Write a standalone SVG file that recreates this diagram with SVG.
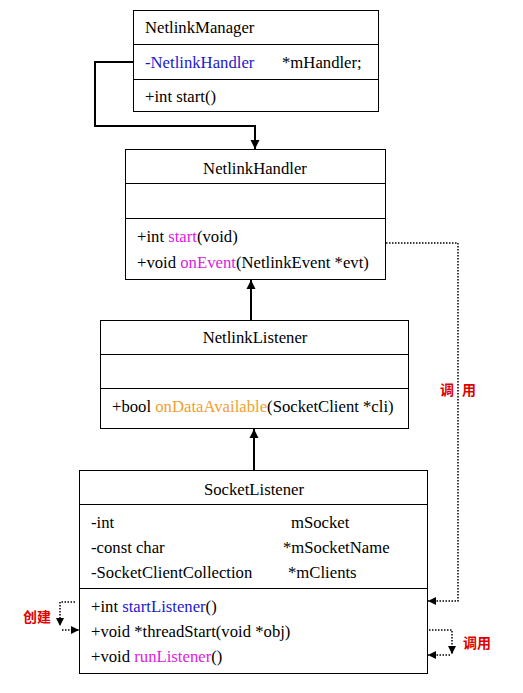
<svg xmlns="http://www.w3.org/2000/svg" width="523" height="693" viewBox="0 0 523 693">
<style>
.box{fill:#fff;stroke:#000;stroke-width:1}
.t{font-family:"Liberation Serif","Times New Roman",serif;font-size:16.7px;fill:#000}
.c{text-anchor:middle}
.blue{fill:#1a1acc}
.mag{fill:#e020e0}
.org{fill:#f0a030}
.cn{font-family:"Noto Sans CJK SC","Noto Sans",sans-serif;font-size:14px;font-weight:bold;fill:#e00000}
.solid{fill:none;stroke:#000;stroke-width:2}
.dot{fill:none;stroke:#000;stroke-width:1.5;stroke-dasharray:1.5 1.5}
</style>
<defs>
<marker id="ah" viewBox="0 0 10 10" refX="10" refY="5" markerUnits="userSpaceOnUse" markerWidth="9" markerHeight="10" orient="auto">
<path d="M0,0 L10,5 L0,10 Z" fill="#000"/>
</marker>
<marker id="ahs" viewBox="0 0 10 10" refX="10" refY="5" markerUnits="userSpaceOnUse" markerWidth="8" markerHeight="8" orient="auto">
<path d="M0,0 L10,5 L0,10 Z" fill="#000"/>
</marker>
</defs>

<g id="NetlinkManager">
<rect class="box" x="133.5" y="10.5" width="245" height="101"/>
<line x1="133.5" y1="44.5" x2="378.5" y2="44.5" stroke="#000"/>
<line x1="133.5" y1="79.5" x2="378.5" y2="79.5" stroke="#000"/>
<text class="t" x="145" y="33">NetlinkManager</text>
<text class="t blue" x="145" y="68">-NetlinkHandler</text>
<text class="t" x="282" y="68">*mHandler;</text>
<text class="t" x="145" y="102">+int start()</text>
</g>

<g id="NetlinkHandler">
<rect class="box" x="125.5" y="149.5" width="260" height="130"/>
<line x1="125.5" y1="183.5" x2="385.5" y2="183.5" stroke="#000"/>
<line x1="125.5" y1="218.5" x2="385.5" y2="218.5" stroke="#000"/>
<text class="t c" x="255" y="174">NetlinkHandler</text>
<text class="t" x="137" y="242">+int <tspan class="mag">start</tspan>(void)</text>
<text class="t" x="137" y="268">+void <tspan class="mag">onEvent</tspan>(NetlinkEvent *evt)</text>
</g>

<g id="NetlinkListener">
<rect class="box" x="100.5" y="320.5" width="308" height="108"/>
<line x1="100.5" y1="354.5" x2="408.5" y2="354.5" stroke="#000"/>
<line x1="100.5" y1="388.5" x2="408.5" y2="388.5" stroke="#000"/>
<text class="t c" x="255" y="343">NetlinkListener</text>
<text class="t" x="112" y="412">+bool <tspan class="org">onDataAvailable</tspan>(SocketClient *cli)</text>
</g>

<g id="SocketListener">
<rect class="box" x="79.5" y="470.5" width="348" height="203"/>
<line x1="79.5" y1="504.5" x2="427.5" y2="504.5" stroke="#000"/>
<line x1="79.5" y1="588.5" x2="427.5" y2="588.5" stroke="#000"/>
<text class="t c" x="254" y="495">SocketListener</text>
<text class="t" x="91" y="528">-int</text>
<text class="t" x="291" y="528">mSocket</text>
<text class="t" x="91" y="553">-const char</text>
<text class="t" x="283" y="553">*mSocketName</text>
<text class="t" x="91" y="578">-SocketClientCollection</text>
<text class="t" x="288" y="578">*mClients</text>
<text class="t" x="91" y="612">+int <tspan class="blue">startListener</tspan>()</text>
<text class="t" x="91" y="637">+void *threadStart(void *obj)</text>
<text class="t" x="91" y="662">+void <tspan class="mag">runListener</tspan>()</text>
</g>

<g id="connectors">
<path class="solid" d="M133,62 H95 V126 H255 V149" marker-end="url(#ah)"/>
<path class="solid" d="M251,320 V280" marker-end="url(#ah)"/>
<path class="solid" d="M254,470 V429" marker-end="url(#ah)"/>
<path class="dot" d="M386,243 H458 V601 H428" marker-end="url(#ahs)"/>
<path class="dot" d="M75,602 H60 V626" marker-end="url(#ahs)"/>
<path class="dot" d="M62,630 H79" marker-end="url(#ahs)"/>
<path class="dot" d="M429,630 H452 V654" marker-end="url(#ahs)"/>
<path class="dot" d="M450,655 H428" marker-end="url(#ahs)"/>
<text class="cn"><tspan x="440" y="395">调</tspan><tspan x="462" y="395">用</tspan></text>
<text class="cn" x="23" y="622">创建</text>
<text class="cn" x="463" y="648">调用</text>
</g>
</svg>
